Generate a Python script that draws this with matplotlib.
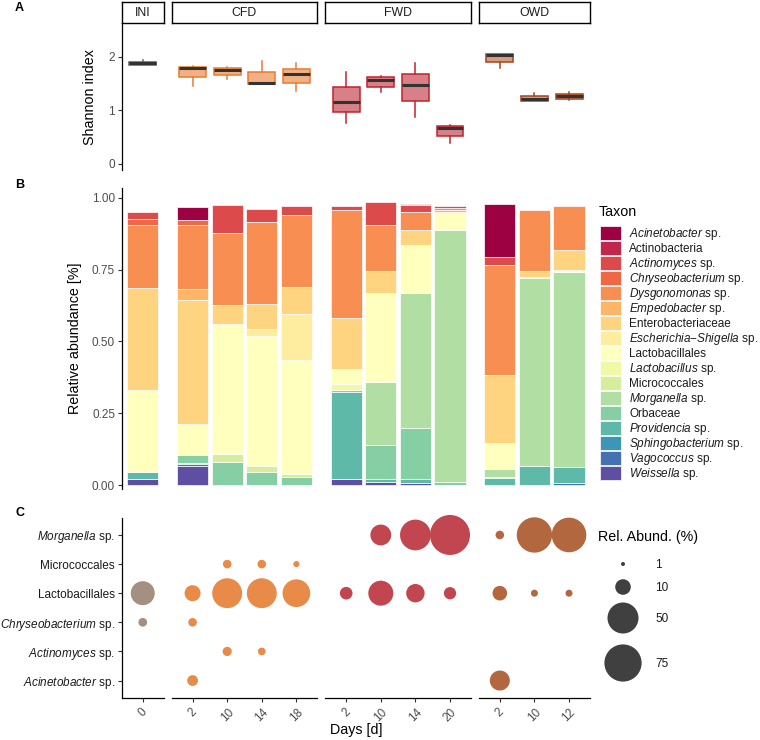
import numpy as np
import matplotlib
matplotlib.use("Agg")
import matplotlib.pyplot as plt
from matplotlib.colors import LinearSegmentedColormap
from matplotlib.patches import Rectangle

plt.rcParams["font.family"] = ["Liberation Sans", "DejaVu Sans"]
plt.rcParams["mathtext.fontset"] = "custom"
plt.rcParams["mathtext.rm"] = "Liberation Sans"
plt.rcParams["mathtext.it"] = "Liberation Sans:italic"

W, H = 760, 740

# ---- data ----
GROUPS = ["INI", "CFD", "FWD", "OWD"]
DAYS = [["0"], ["2", "10", "14", "18"], ["2", "10", "14", "20"], ["2", "10", "12"]]

# Shannon index boxes per sample: (lower whisker, q1, median, q3, upper whisker)
shannon_ini = [(1.85, 1.85, 1.88, 1.91, 1.94)]
shannon_cfd = [(1.46, 1.63, 1.79, 1.82, 1.83), (1.58, 1.67, 1.76, 1.79, 1.81),
               (1.49, 1.49, 1.52, 1.72, 1.93), (1.36, 1.51, 1.68, 1.78, 1.88)]
shannon_fwd = [(0.77, 0.96, 1.16, 1.43, 1.71), (1.34, 1.44, 1.57, 1.62, 1.65),
               (0.88, 1.18, 1.47, 1.68, 1.88), (0.39, 0.51, 0.66, 0.70, 0.72)]
shannon_owd = [(1.79, 1.90, 2.03, 2.06, 2.06), (1.17, 1.17, 1.21, 1.27, 1.33),
               (1.19, 1.22, 1.27, 1.31, 1.34)]
SHANNON = [shannon_ini, shannon_cfd, shannon_fwd, shannon_owd]

# relative abundance, samples: INI 0 | CFD 2 10 14 18 | FWD 2 10 14 20 | OWD 2 10 12
acinetobacter    = [0, 0.045, 0, 0, 0, 0, 0, 0, 0, 0.186, 0, 0]
actinobacteria   = [0, 0, 0, 0, 0, 0, 0, 0.003, 0, 0, 0, 0]
actinomyces      = [0.022, 0, 0.096, 0.048, 0.031, 0.012, 0.080, 0.027, 0.008, 0.028, 0, 0]
chryseobacterium = [0.023, 0.019, 0, 0, 0, 0, 0, 0, 0, 0, 0, 0]
dysgonomonas     = [0.217, 0.222, 0.251, 0.285, 0.249, 0.378, 0.161, 0.060, 0.006, 0.381, 0.210, 0.153]
empedobacter     = [0, 0.040, 0, 0, 0, 0, 0, 0, 0.008, 0, 0, 0]
enterobacteriaceae = [0.357, 0.430, 0.065, 0.087, 0.094, 0.176, 0.075, 0.055, 0, 0.239, 0.021, 0.072]
escherichia      = [0, 0, 0, 0.023, 0.161, 0, 0, 0, 0, 0, 0, 0]
lactobacillales  = [0.284, 0.110, 0.454, 0.454, 0.399, 0.053, 0.309, 0.166, 0.061, 0.089, 0.006, 0.007]
lactobacillus    = [0, 0, 0, 0, 0, 0.021, 0, 0, 0, 0, 0, 0]
micrococcales    = [0, 0, 0.027, 0.022, 0.008, 0, 0, 0, 0, 0, 0, 0]
morganella       = [0, 0, 0, 0, 0, 0, 0.220, 0.469, 0.878, 0.027, 0.654, 0.679]
orbaceae         = [0, 0.025, 0.081, 0.044, 0.029, 0.007, 0.120, 0.180, 0.012, 0.003, 0, 0]
providencia      = [0.026, 0.005, 0, 0, 0, 0.304, 0.008, 0.012, 0, 0.026, 0.066, 0.054]
sphingobacterium = [0, 0, 0, 0, 0, 0, 0, 0, 0, 0, 0, 0]
vagococcus       = [0, 0.007, 0, 0, 0, 0, 0, 0, 0, 0, 0, 0.008]
weissella        = [0.021, 0.066, 0, 0, 0, 0.020, 0.012, 0.008, 0, 0, 0, 0]

TAXA = [r"$\it{Acinetobacter}$ sp.", "Actinobacteria", r"$\it{Actinomyces}$ sp.",
        r"$\it{Chryseobacterium}$ sp.", r"$\it{Dysgonomonas}$ sp.", r"$\it{Empedobacter}$ sp.",
        "Enterobacteriaceae", r"$\it{Escherichia}$−$\it{Shigella}$ sp.", "Lactobacillales",
        r"$\it{Lactobacillus}$ sp.", "Micrococcales", r"$\it{Morganella}$ sp.", "Orbaceae",
        r"$\it{Providencia}$ sp.", r"$\it{Sphingobacterium}$ sp.", r"$\it{Vagococcus}$ sp.",
        r"$\it{Weissella}$ sp."]
ABUND = [acinetobacter, actinobacteria, actinomyces, chryseobacterium, dysgonomonas,
         empedobacter, enterobacteriaceae, escherichia, lactobacillales, lactobacillus,
         micrococcales, morganella, orbaceae, providencia, sphingobacterium, vagococcus, weissella]

# bubble panel (percent), rows bottom -> top
DOT_TAXA = [r"$\it{Acinetobacter}$ sp.", r"$\it{Actinomyces}$ sp.", r"$\it{Chryseobacterium}$ sp.",
            "Lactobacillales", "Micrococcales", r"$\it{Morganella}$ sp."]
dot_acinetobacter    = [0, 4.1, 0, 0, 0, 0, 0, 0, 0, 18.2, 0, 0]
dot_actinomyces      = [0, 0, 2.8, 1.9, 0, 0, 0, 0, 0, 0, 0, 0]
dot_chryseobacterium = [2.5, 2.4, 0, 0, 0, 0, 0, 0, 0, 0, 0, 0]
dot_lactobacillales  = [27.8, 10.7, 46, 46, 38.7, 6, 30.6, 15, 5.6, 8.5, 1.6, 1.6]
dot_micrococcales    = [0, 0, 2.4, 2.4, 1.3, 0, 0, 0, 0, 0, 0, 0]
dot_morganella       = [0, 0, 0, 0, 0, 0, 20, 49, 88, 2.4, 67, 64]
DOT_VALUES = [dot_acinetobacter, dot_actinomyces, dot_chryseobacterium,
              dot_lactobacillales, dot_micrococcales, dot_morganella]
SIZE_BREAKS = [1, 10, 50, 75]

# ---- styles ----
spectral = LinearSegmentedColormap.from_list("sp", [
    "#9E0142", "#D53E4F", "#F46D43", "#FDAE61", "#FEE08B", "#FFFFBF",
    "#E6F598", "#ABDDA4", "#66C2A5", "#3288BD", "#5E4FA2"])
TAXA_COLORS = [spectral(i / 16) for i in range(17)]
BOX_EDGE = ["#6E5E52", "#EC7A2E", "#C3222E", "#A8421A"]
BOX_FILL = ["#A08C7D", "#F2B184", "#D78087", "#D89C80"]
DOT_COLORS = ["#A39080", "#E88A48", "#C24650", "#B3673F"]
GRAY = "#4D4D4D"


def dot_size(v):
    d = 4 + 3.86 * np.sqrt(np.maximum(np.asarray(v, float) - 1, 0))
    return (d / (100 / 72)) ** 2


def px_axes(x0, y0, x1, y1):
    return fig.add_axes([x0 / W, 1 - y1 / H, (x1 - x0) / W, (y1 - y0) / H])


fig = plt.figure(figsize=(W / 100, H / 100), dpi=100)

LEFT, UNIT, GAP = 122, 34.6, 8.3
facet_x = []
x = LEFT
for d in DAYS:
    w = (len(d) - 1 + 1.2) * UNIT
    facet_x.append((x, x + w))
    x += w + GAP

starts = np.cumsum([0] + [len(d) for d in DAYS])


def style(ax, first, bottom):
    for s in ["top", "right"]:
        ax.spines[s].set_visible(False)
    ax.spines["left"].set_visible(first)
    ax.spines["bottom"].set_visible(bottom)
    for s in ["left", "bottom"]:
        ax.spines[s].set_linewidth(0.9)
    ax.tick_params(length=3, width=0.8, color="#333333", labelcolor=GRAY, labelsize=8.5, pad=2)
    if not first:
        ax.tick_params(axis="y", left=False, labelleft=False)
    if not bottom:
        ax.tick_params(axis="x", bottom=False, labelbottom=False)
    ax.set_facecolor("none")


for gi, (x0, x1) in enumerate(facet_x):
    n = len(DAYS[gi])
    pos = np.arange(n)
    sl = slice(starts[gi], starts[gi + 1])

    # strip
    sax = px_axes(x0, 1.7, x1, 23.3)
    sax.set_xticks([]); sax.set_yticks([])
    for s in sax.spines.values():
        s.set_linewidth(1.0)
    sax.text(0.5, 0.48, GROUPS[gi], ha="center", va="center", fontsize=8.8, color="#1A1A1A",
             transform=sax.transAxes)

    # A: Shannon
    ax = px_axes(x0, 23.3, x1, 170)
    stats = [dict(whislo=a, q1=b, med=c, q3=d, whishi=e) for a, b, c, d, e in SHANNON[gi]]
    ax.bxp(stats, positions=pos, widths=0.78, patch_artist=True, showfliers=False,
           showcaps=False,
           boxprops=dict(facecolor=BOX_FILL[gi], edgecolor=BOX_EDGE[gi], linewidth=1.1),
           whiskerprops=dict(color=BOX_EDGE[gi], linewidth=1.1),
           medianprops=dict(color="#333333", linewidth=2.2, solid_capstyle="butt"))
    ax.set_xlim(-0.6, n - 1 + 0.6)
    ax.set_ylim(-0.12, 2.63)
    ax.set_yticks([0, 1, 2])
    style(ax, gi == 0, False)

    # B: stacked bars
    ax = px_axes(x0, 188, x1, 489)
    bottom = np.zeros(n)
    for ti in reversed(range(len(TAXA))):
        vals = np.array(ABUND[ti][sl], float)
        mask = vals > 0
        if mask.any():
            ax.bar(pos[mask], vals[mask], 0.9, bottom=bottom[mask], color=TAXA_COLORS[ti],
                   edgecolor="white", linewidth=0.5)
        bottom += vals
    ax.set_xlim(-0.6, n - 1 + 0.6)
    ax.set_ylim(-0.0139, 1.0348)
    ax.set_yticks([0, 0.25, 0.5, 0.75, 1.0])
    ax.set_yticklabels(["0.00", "0.25", "0.50", "0.75", "1.00"])
    style(ax, gi == 0, False)

    # C: bubbles
    ax = px_axes(x0, 517.5, x1, 698)
    for ri, row in enumerate(DOT_VALUES):
        vals = np.array(row[sl], float)
        mask = vals > 0
        if not mask.any():
            continue
        ax.scatter(pos[mask], np.full(mask.sum(), ri + 1), s=dot_size(vals[mask]),
                   color=DOT_COLORS[gi], edgecolors="none", zorder=3, clip_on=False)
    ax.set_xlim(-0.6, n - 1 + 0.6)
    ax.set_ylim(0.4, 6.6)
    ax.set_xticks(pos)
    ax.set_xticklabels(DAYS[gi], rotation=45, ha="center", va="top")
    ax.set_yticks(np.arange(1, 7))
    ax.set_yticklabels(DOT_TAXA)
    style(ax, gi == 0, True)
    ax.tick_params(axis="y", labelcolor="#1A1A1A")
    ax.tick_params(axis="x", pad=3)

# titles and panel letters
fig.text(15 / W, 1 - 8 / H, "A", fontsize=9, fontweight="bold", va="center")
fig.text(15 / W, 1 - 185 / H, "B", fontsize=9, fontweight="bold", va="center")
fig.text(15 / W, 1 - 513 / H, "C", fontsize=9, fontweight="bold", va="center")
fig.text(90 / W, 1 - 97 / H, "Shannon index", rotation=90, fontsize=10.3, ha="center", va="center")
fig.text(75 / W, 1 - 338 / H, "Relative abundance [%]", rotation=90, fontsize=10.3,
         ha="center", va="center")
fig.text(356 / W, 1 - 730 / H, "Days [d]", fontsize=10.3, ha="center", va="center")

# legends, drawn in pixel space
lax = fig.add_axes([0, 0, 1, 1])
lax.set_xlim(0, W); lax.set_ylim(H, 0)
lax.axis("off")

lax.text(599, 216, "Taxon", fontsize=10.3, va="baseline")
for i, (lab, col) in enumerate(zip(TAXA, TAXA_COLORS)):
    yc = 233 + 15 * i
    lax.add_patch(Rectangle((600, yc - 7), 21, 14, facecolor=col, edgecolor="white", linewidth=0.5))
    lax.text(629, yc + 4.2, lab, fontsize=8.5, va="baseline", color="#1A1A1A")

lax.text(598, 541, "Rel. Abund. (%)", fontsize=10.3, va="baseline")
for b, yy in zip(SIZE_BREAKS, [564, 587, 618, 663]):
    lax.scatter([623], [yy], s=dot_size(b), color="#404040", edgecolors="none")
    lax.text(655, yy + 4.2, str(b), fontsize=8.5, va="baseline", color="#1A1A1A")

fig.savefig("out.png", dpi=100)
